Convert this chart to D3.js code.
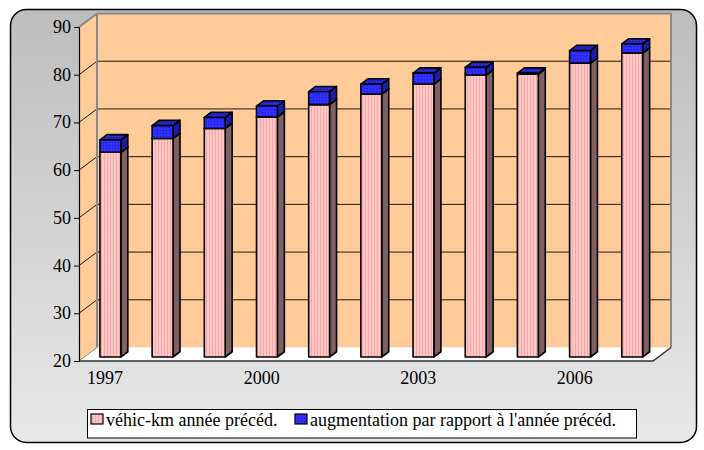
<!DOCTYPE html>
<html><head><meta charset="utf-8">
<script src="https://cdn.jsdelivr.net/npm/d3@7"></script>
</head>
<body style="margin:0">
<svg id="chart" width="704" height="450"></svg>
<script>
// ---- data ----
const years = [1997,1998,1999,2000,2001,2002,2003,2004,2005,2006,2007];
const prevYearKm = [62.9,65.8,67.9,70.3,72.9,75.1,77.2,79.1,79.3,81.6,83.7];
const increase   = [2.6, 2.7, 2.3, 2.3, 2.7, 2.1, 2.3, 1.6, 0.2, 2.6, 1.9];
const yTicks = [20,30,40,50,60,70,80,90];
const xTickLabels = [1997,2000,2003,2006];
const seriesNames = ["véhic-km année précéd.","augmentation par rapport à l'année précéd."];

const FONT = "Times New Roman";

const svg = d3.select("#chart");
const defs = svg.append("defs");

const g1 = defs.append("linearGradient").attr("id","panelGrad").attr("x1",0).attr("y1",0).attr("x2",0).attr("y2",1);
g1.append("stop").attr("offset","0%").attr("stop-color","#bdbdbd");
g1.append("stop").attr("offset","100%").attr("stop-color","#e8e8e8");

const pp = defs.append("pattern").attr("id","pinkPat").attr("width",3).attr("height",4).attr("patternUnits","userSpaceOnUse");
pp.append("rect").attr("width",3).attr("height",4).attr("fill","#ffc6c6");
pp.append("rect").attr("x",2).attr("width",1).attr("height",4).attr("fill","#f4a8a8");
const bp = defs.append("pattern").attr("id","bluePat").attr("width",3).attr("height",3).attr("patternUnits","userSpaceOnUse");
bp.append("rect").attr("width",3).attr("height",3).attr("fill","#2f2fff");
bp.append("rect").attr("x",1).attr("y",1).attr("width",1).attr("height",1).attr("fill","#1a1ad0");
const bpt = defs.append("pattern").attr("id","blueTopPat").attr("width",3).attr("height",3).attr("patternUnits","userSpaceOnUse");
bpt.append("rect").attr("width",3).attr("height",3).attr("fill","#2222c8");
bpt.append("rect").attr("x",1).attr("y",1).attr("width",1).attr("height",1).attr("fill","#3a3aff");

svg.append("rect").attr("x",10.5).attr("y",9.5).attr("width",686).attr("height",433)
  .attr("rx",16).attr("fill","url(#panelGrad)").attr("stroke","#000").attr("stroke-width",1.5);

const x = d3.scaleBand().domain(years).range([79,653]).paddingInner(0.6).paddingOuter(0.3);
const y = d3.scaleLinear().domain([20,90]).range([361,27]);
const DX = 18, DY = -13.5;
const BX = 5.3, BY = -4;
const PX = 7, PY = -5.25;

const x0 = x.range()[0], x1 = x.range()[1];
const yTop = y(90), yBot = y(20);

svg.append("rect").attr("x",x0+DX).attr("y",yTop+DY).attr("width",x1-x0).attr("height",yBot-yTop)
  .attr("fill","#ffcc99");
svg.append("path").attr("d",`M${x0},${yTop}L${x0+DX},${yTop+DY}L${x0+DX},${yBot+DY}L${x0},${yBot}Z`)
  .attr("fill","#ffcc99");
svg.append("path").attr("d",`M${x0},${yBot}L${x0+DX},${yBot+DY}L${x1+DX},${yBot+DY}L${x1},${yBot}Z`)
  .attr("fill","#ffffff");

const grid = svg.append("g");
yTicks.filter(v=>v>20 && v<90).forEach(v=>{
  grid.append("line").attr("x1",x0+DX).attr("x2",x1+DX).attr("y1",y(v)+DY).attr("y2",y(v)+DY)
    .attr("stroke","#1a1a1a").attr("stroke-width",1);
});
yTicks.filter(v=>v>20).forEach(v=>{
  grid.append("line").attr("x1",x0).attr("x2",x0+DX).attr("y1",y(v)).attr("y2",y(v)+DY)
    .attr("stroke","#1a1a1a").attr("stroke-width",1);
});
svg.append("path").attr("d",`M${x0},${yTop}L${x0+DX},${yTop+DY}L${x1+DX},${yTop+DY}L${x1+DX},${yBot+DY}`)
  .attr("fill","none").attr("stroke","#888").attr("stroke-width",2);
svg.append("line").attr("x1",x0+DX).attr("x2",x0+DX).attr("y1",yTop+DY).attr("y2",yBot+DY)
  .attr("stroke","#888").attr("stroke-width",2);
svg.append("path").attr("d",`M${x0},${yBot}L${x1},${yBot}L${x1+DX},${yBot+DY}`)
  .attr("fill","none").attr("stroke","#333").attr("stroke-width",1.5);
svg.append("line").attr("x1",x0).attr("x2",x0+DX).attr("y1",yBot).attr("y2",yBot+DY)
  .attr("stroke","#888").attr("stroke-width",1);

const bars = svg.append("g");
const bw = x.bandwidth();
function drawSeg(i, v0, v1, front, side, top){
  const fx0 = x(years[i]) + BX, fx1 = fx0 + bw;
  const ft = y(v1) + BY, fb = y(v0) + BY;
  const g = bars.append("g").attr("stroke","#000").attr("stroke-width",1.6).attr("stroke-linejoin","round");
  g.append("path").attr("d",`M${fx1},${ft}L${fx1+PX},${ft+PY}L${fx1+PX},${fb+PY}L${fx1},${fb}Z`).attr("fill",side);
  g.append("path").attr("d",`M${fx0},${ft}L${fx0+PX},${ft+PY}L${fx1+PX},${ft+PY}L${fx1},${ft}Z`).attr("fill",top);
  g.append("rect").attr("x",fx0).attr("y",ft).attr("width",bw).attr("height",fb-ft).attr("fill",front);
}
years.forEach((yr,i)=>{
  drawSeg(i, 20, prevYearKm[i], "url(#pinkPat)", "#7f5f5f", "#e0a8a8");
  drawSeg(i, prevYearKm[i], prevYearKm[i]+increase[i], "url(#bluePat)", "#1c1ca8", "url(#blueTopPat)");
});

const yAxis = svg.append("g").attr("transform",`translate(${x0},0)`)
  .call(d3.axisLeft(y).tickValues(yTicks).tickSize(5).tickSizeOuter(0).tickFormat(""));
yAxis.select(".domain").attr("stroke","#000").attr("stroke-width",1.2);
yAxis.selectAll(".tick line").attr("stroke","#000");
yAxis.selectAll("text").remove();
yTicks.forEach(v=>{
  svg.append("text").attr("x",x0-8).attr("y",y(v)+6).attr("text-anchor","end")
    .attr("font-family",FONT).attr("font-size",18).attr("fill","#000").text(v);
});

xTickLabels.forEach(v=>{
  svg.append("text").attr("x",x(v)+bw/2).attr("y",384).attr("text-anchor","middle")
    .attr("font-family",FONT).attr("font-size",18).attr("fill","#000").text(v);
});

svg.append("rect").attr("x",87.5).attr("y",409.5).attr("width",549).attr("height",28.5)
  .attr("fill","#fff").attr("stroke","#000").attr("stroke-width",1);
const legItems = [
  {name:seriesNames[0], fill:"url(#pinkPat)", x:91},
  {name:seriesNames[1], fill:"url(#bluePat)", x:295}
];
legItems.forEach(d=>{
  svg.append("rect").attr("x",d.x).attr("y",414).attr("width",12).attr("height",10)
    .attr("fill",d.fill).attr("stroke","#000").attr("stroke-width",1.2);
  svg.append("text").attr("x",d.x+15).attr("y",426).attr("fill","#000")
    .attr("font-family",FONT).attr("font-size",18).text(d.name);
});
</script>
</body></html>
